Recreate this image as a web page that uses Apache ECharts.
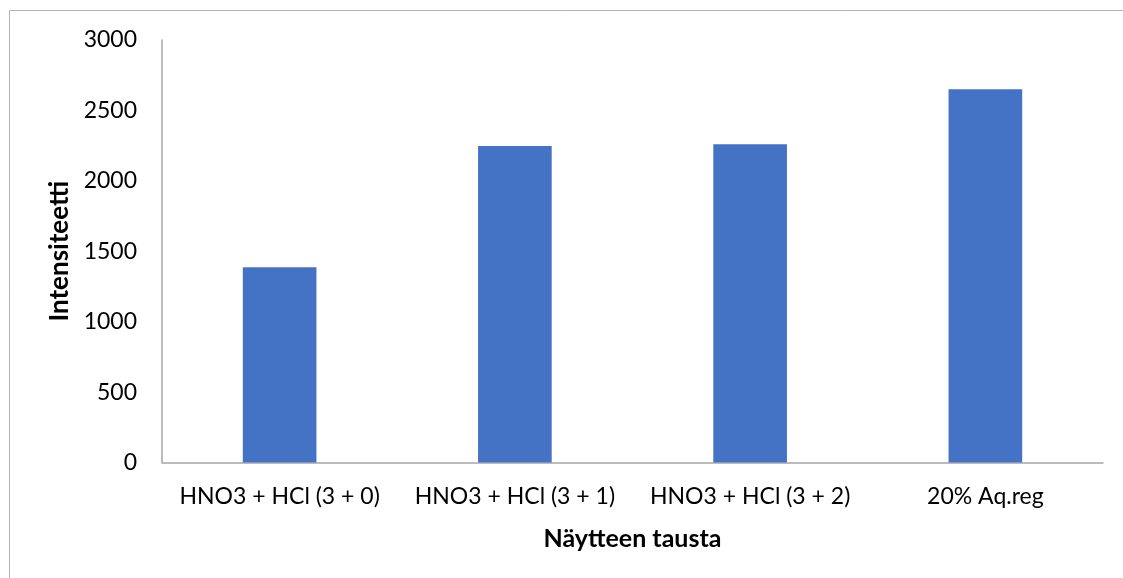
<!DOCTYPE html>
<html>
<head>
<meta charset="utf-8">
<script src="https://cdn.jsdelivr.net/npm/echarts@6/dist/echarts.min.js"></script>
<style>
  html, body { margin: 0; padding: 0; background: #ffffff; }
  #chart { width: 1123px; height: 578px; }
</style>
</head>
<body>
<div id="chart"></div>
<script>
// Sample backgrounds and measured intensity
const categories = ['HNO3 + HCl (3 + 0)', 'HNO3 + HCl (3 + 1)', 'HNO3 + HCl (3 + 2)', '20% Aq.reg'];
const intensity = [1386, 2247, 2259, 2650];
const yTicks = { min: 0, max: 3000, interval: 500 };
const xTitle = 'Näytteen tausta';
const yTitle = 'Intensiteetti';

const FONT = 'Lato';
const chart = echarts.init(document.getElementById('chart'), null, { renderer: 'canvas' });

chart.setOption({
  animation: false,
  backgroundColor: '#ffffff',
  graphic: [{
    type: 'rect',
    shape: { x: 9.5, y: 10.5, width: 1300, height: 700 },
    style: { fill: 'none', stroke: '#b4b4b4', lineWidth: 1 },
    silent: true
  }],
  grid: { left: 162, right: 20, top: 40, bottom: 115.5, containLabel: false },
  xAxis: {
    type: 'category',
    data: categories,
    name: xTitle,
    nameLocation: 'middle',
    nameGap: 64,
    nameTextStyle: { fontFamily: FONT, fontSize: 25, fontWeight: 'bold', color: '#000' },
    axisLine: { show: true, lineStyle: { color: '#a6a6a6', width: 1.5 } },
    axisTick: { show: false },
    axisLabel: { fontFamily: FONT, fontSize: 23, color: '#000', margin: 23, interval: 0 },
    splitLine: { show: false }
  },
  yAxis: {
    type: 'value',
    min: yTicks.min,
    max: yTicks.max,
    interval: yTicks.interval,
    name: yTitle,
    nameLocation: 'middle',
    nameGap: 84,
    nameRotate: 90,
    nameTextStyle: { fontFamily: FONT, fontSize: 26, fontWeight: 'bold', color: '#000' },
    axisLine: { show: true, lineStyle: { color: '#a6a6a6', width: 1.5 } },
    axisTick: { show: false },
    axisLabel: { fontFamily: FONT, fontSize: 23, color: '#000', margin: 25, formatter: v => String(v) },
    splitLine: { show: false }
  },
  series: [{
    type: 'bar',
    data: intensity,
    barWidth: '31.3%',
    itemStyle: { color: '#4472C4' }
  }]
});
</script>
</body>
</html>
